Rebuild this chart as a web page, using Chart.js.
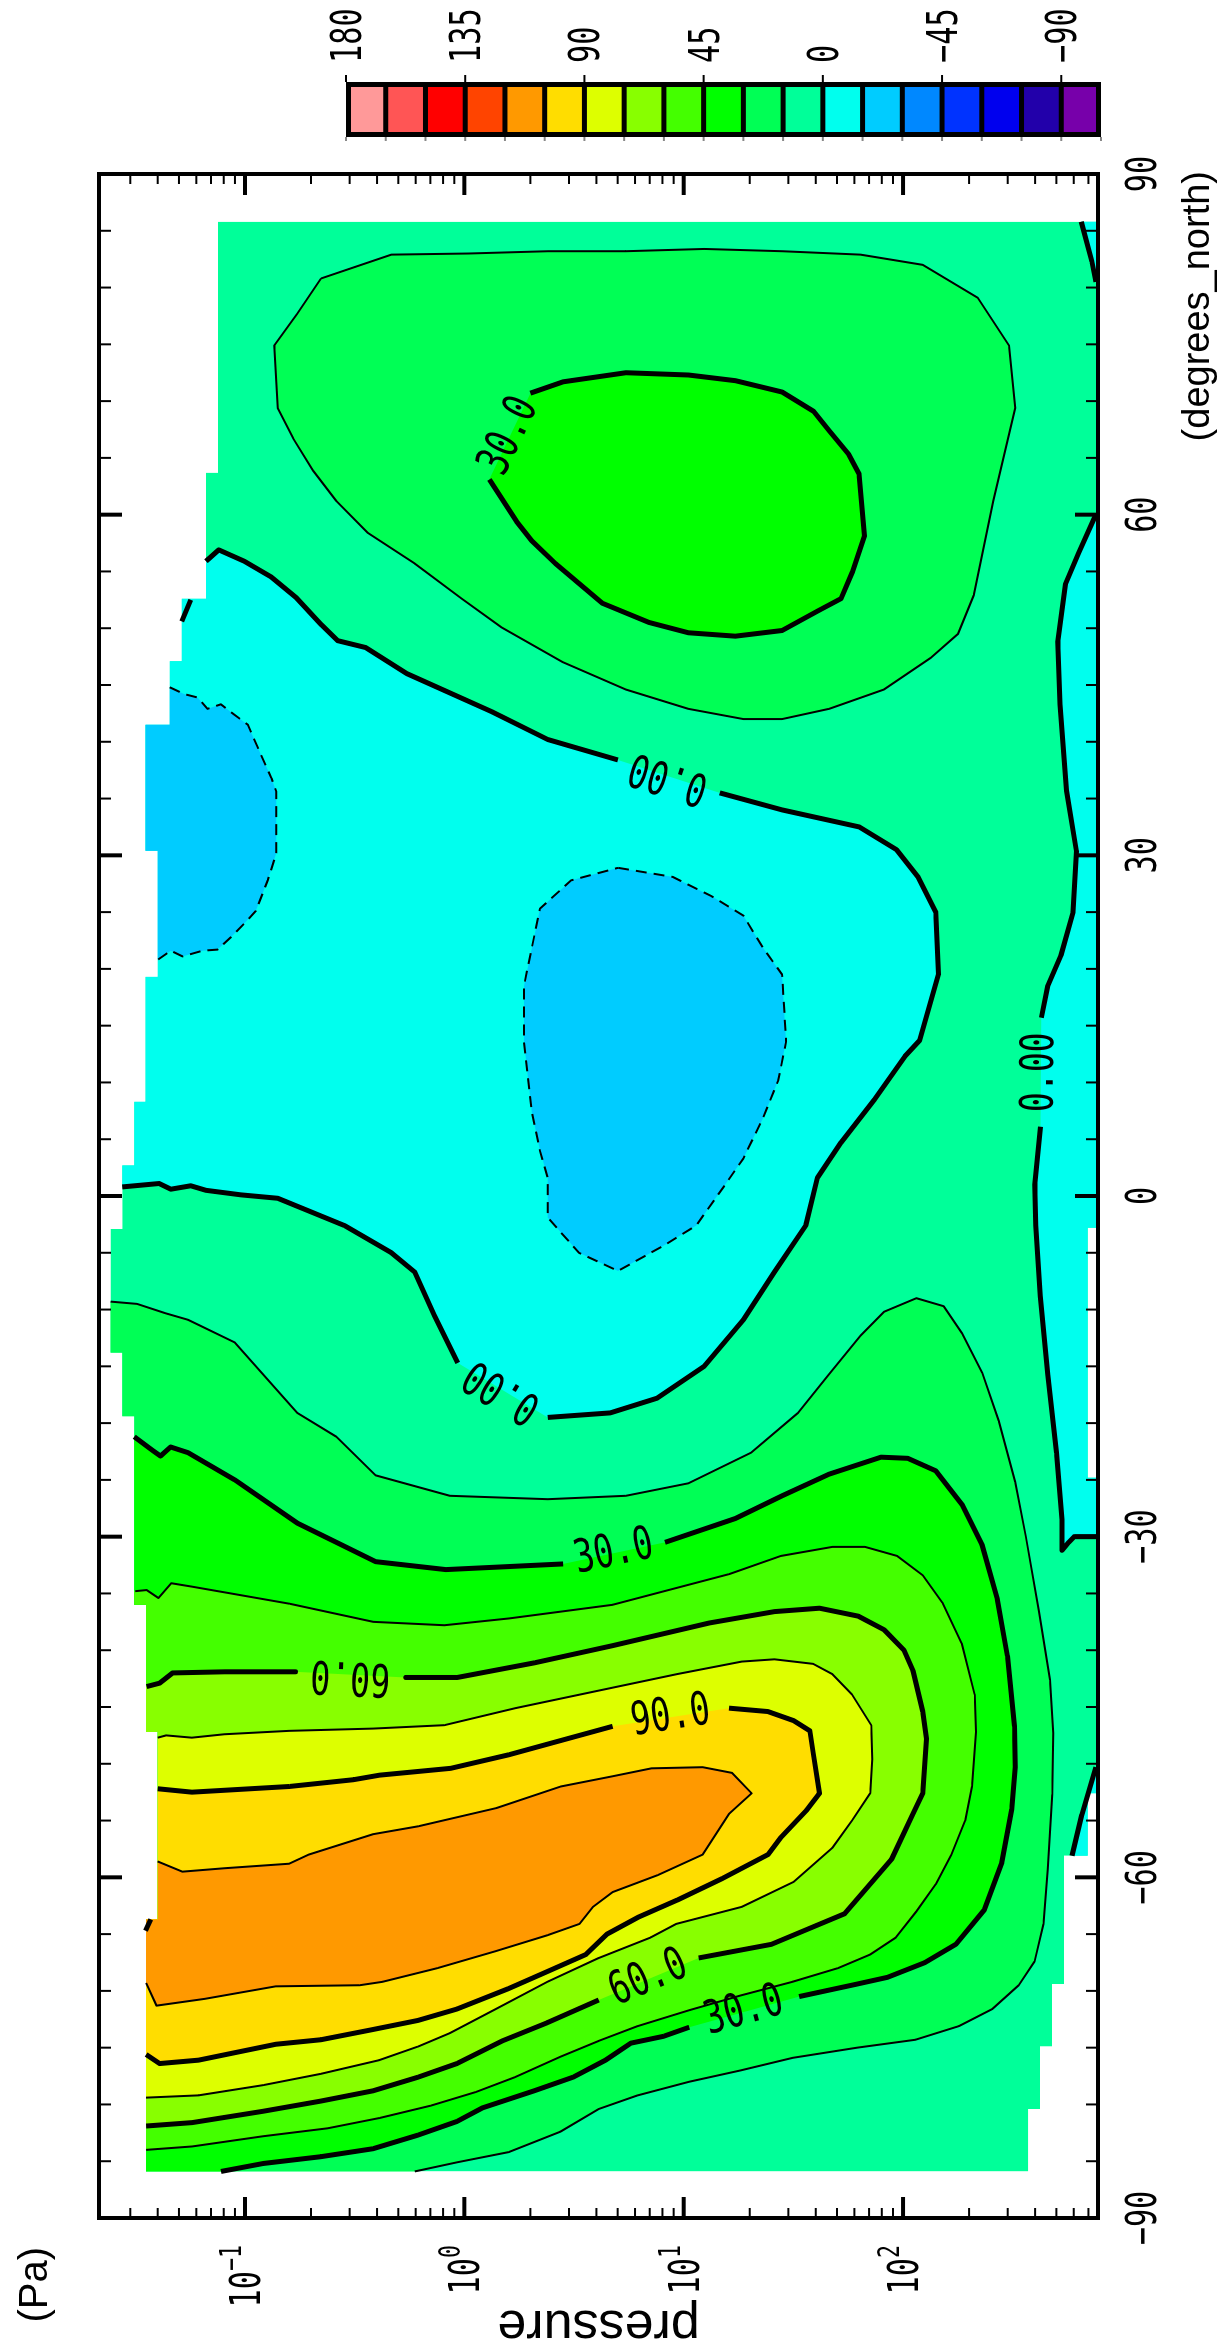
<!DOCTYPE html>
<html>
<head>
<meta charset="utf-8">
<script src="https://cdn.jsdelivr.net/npm/chart.js@4.4.1/dist/chart.umd.min.js"></script>
<style>
  html, body { margin: 0; padding: 0; background: #fff; overflow: hidden; }
  #page { position: relative; width: 1226px; height: 2347px; overflow: hidden; }
  /* the plot is drawn landscape, then turned a quarter to the left like the original page */
  #wrap { position: absolute; left: 0; top: 0; width: 2347px; height: 1226px;
          transform-origin: 0 0; transform: translate(0, 2347px) rotate(-90deg); }
</style>
</head>
<body>
<div id="page"><div id="wrap"><canvas id="chart" width="2347" height="1226"></canvas></div></div>
<script>
// ---- axes ----
const latTicks = [-90, -60, -30, 0, 30, 60, 90];
const latLabels = ['\u221290', '\u221260', '\u221230', '0', '30', '60', '90'];
const pressureTicks = [0.1, 1, 10, 100];
const pressureExponents = ['\u22121', '0', '1', '2'];
const pressureRange = [0.0216, 774];

// ---- colour levels (m/s) ----
const levelEdges = [180, 165, 150, 135, 120, 105, 90, 75, 60, 45, 30, 15, 0, -15, -30, -45, -60, -75, -90, -105];
const levelColors = ['#FF9999', '#FF5555', '#FF0000', '#FF4400', '#FF9900', '#FFDD00', '#DDFF00', '#88FF00',
  '#44FF00', '#00FF00', '#00FF55', '#00FF99', '#00FFEE', '#00CCFF', '#0088FF', '#0033FF', '#0000EE', '#2200AA', '#7700AA'];
const colorbarLabels = ['180', '135', '90', '45', '0', '\u221245', '\u221290'];

// ---- data region (latitude, pressure Pa) ----
const domainLow = [[85.8, 0.0753], [63.7, 0.0753], [63.7, 0.0664], [52.6, 0.0664], [52.6, 0.0515], [47.1, 0.0515],
  [47.1, 0.0454], [41.5, 0.0454], [41.5, 0.0352], [30.4, 0.0352], [30.4, 0.0400], [19.3, 0.0400],
  [19.3, 0.0352], [8.3, 0.0352], [8.3, 0.0313], [2.7, 0.0313], [2.7, 0.0276], [-2.9, 0.0276],
  [-2.9, 0.0244], [-13.8, 0.0244], [-13.8, 0.0276], [-19.4, 0.0276], [-19.4, 0.0313], [-36.0, 0.0313],
  [-36.0, 0.0354], [-47.2, 0.0354], [-47.2, 0.0400], [-63.7, 0.0400], [-63.7, 0.0354], [-85.9, 0.0354]];
const domainHigh = [[-85.9, 372], [-80.4, 372], [-80.4, 421], [-74.9, 421], [-74.9, 477], [-69.4, 477], [-69.4, 541],
  [-58.1, 541], [-58.1, 695], [-52.6, 695], [-52.6, 757], [-24.8, 757], [-24.8, 695], [-2.8, 695],
  [-2.8, 757], [85.8, 757]];

// ---- contour lines, split where a label sits ----
const zeroMain = [
  [[55.9, 0.0664], [56.9, 0.0759], [55.9, 0.0993], [54.5, 0.132], [52.7, 0.171], [50.3, 0.223], [48.9, 0.265],
   [48.3, 0.355], [46.0, 0.547], [42.6, 1.35], [40.2, 2.40], [38.4, 5.01]],
  [[35.5, 14.6], [34.0, 28.1], [32.5, 63.1], [30.5, 93.3], [28.1, 117], [25.0, 141], [19.5, 145], [13.7, 119],
   [12.3, 102], [8.5, 74.1], [4.7, 52.1], [1.6, 40.7], [-2.6, 36.0], [-6.7, 25.9], [-10.9, 18.7], [-15.0, 12.4],
   [-17.8, 7.57], [-19.1, 4.62], [-19.5, 2.40]],
  [[-14.7, 0.933], [-10.5, 0.729], [-6.7, 0.594], [-5.0, 0.465], [-2.6, 0.284], [-0.2, 0.141], [0.1, 0.0959],
   [0.5, 0.0664], [0.9, 0.0566], [0.6, 0.0459], [1.1, 0.0406], [0.8, 0.0276]]];
const zeroMainClose = [[0.8, 0.015], [55.9, 0.015]];
const zeroSurface = [
  [[60.0, 757], [56.6, 631], [53.9, 550], [48.8, 507], [43.3, 519], [35.7, 556], [30.4, 617], [25.0, 596],
   [21.2, 525], [18.5, 457], [15.7, 427]],
  [[6.1, 423], [1.0, 398], [-2.6, 403], [-8.8, 422], [-15.7, 457], [-22.6, 501], [-28.5, 531], [-31.2, 531],
   [-30.5, 569], [-30.0, 603], [-30.0, 757]]];
const zeroSurfaceClose = [[-30, 950], [60, 950]];
const zeroNorthCorner = [[[85.8, 649], [82.3, 726], [80.5, 757]]];
const zeroNorthCornerClose = [[80.5, 950], [88, 950], [88, 649]];
const zeroSouthSurface = [[[-58.1, 589], [-54.5, 653], [-50.3, 757]]];
const zeroSouthSurfaceClose = [[-50.3, 950], [-60, 950], [-60, 589]];
const zeroDash = [[[50.6, 0.0515], [52.5, 0.0566]]];

const minus15Top = [[[44.8, 0.0454], [44.2, 0.0528], [43.9, 0.0608], [42.9, 0.0675], [43.3, 0.0776], [42.4, 0.0893],
  [41.5, 0.103], [38.9, 0.118], [36.8, 0.132], [35.6, 0.139], [30.2, 0.139], [27.8, 0.127], [25.1, 0.112],
  [24.0, 0.0993], [22.8, 0.0863], [21.7, 0.0750], [21.6, 0.0640], [21.1, 0.0519], [21.6, 0.0459], [20.8, 0.0400]]];
const minus15TopClose = [[20.8, 0.015], [44.8, 0.015]];
const minus15Mid = [[[28.9, 5.02], [28.1, 8.91], [26.4, 13.4], [24.7, 18.7], [21.9, 22.9], [19.5, 28.1], [13.6, 29.3],
  [10.2, 27.0], [6.8, 22.9], [3.3, 18.7], [0.8, 15.2], [-2.6, 11.4], [-4.3, 8.22], [-6.6, 5.02], [-5.0, 3.33],
  [-1.9, 2.40], [1.6, 2.40], [4.0, 2.21], [7.4, 2.03], [13.6, 1.87], [18.5, 1.87], [25.3, 2.21], [27.8, 3.07],
  [28.9, 5.02]]];

const plus15North = [[[80.8, 0.222], [82.9, 0.465], [83.0, 1.05], [83.2, 2.40], [83.2, 5.45], [83.4, 12.4], [83.2, 28.1],
  [82.9, 64.0], [82.0, 123], [79.1, 219], [74.9, 304], [69.4, 325], [61.2, 258], [52.9, 210], [49.5, 178],
  [47.4, 134], [44.6, 81.8], [42.9, 46.0], [42.0, 28.1], [42.0, 18.7], [42.9, 10.5], [44.6, 5.45], [47.0, 2.82],
  [50.1, 1.47], [52.6, 0.973], [55.7, 0.594], [58.4, 0.363], [61.2, 0.261], [63.9, 0.204], [66.7, 0.166],
  [69.4, 0.141], [74.9, 0.136], [77.7, 0.173], [80.8, 0.222]]];
const plus15South = [[[-9.3, 0.0244], [-9.5, 0.0322], [-10.3, 0.0430], [-10.9, 0.0550], [-12.9, 0.0899], [-19.1, 0.173],
  [-21.2, 0.261], [-24.6, 0.394], [-26.4, 0.859], [-26.7, 2.40], [-26.4, 5.45], [-25.3, 10.5], [-22.6, 20.3],
  [-19.1, 33.2], [-15.7, 46.0], [-12.3, 64.0], [-10.2, 81.8], [-9.0, 115], [-9.7, 153], [-12.1, 186], [-15.6, 230],
  [-19.8, 273], [-25.2, 325], [-30.0, 363], [-36.6, 417], [-42.6, 468], [-47.3, 484], [-52.7, 479], [-59.3, 457],
  [-64.1, 437], [-67.4, 398], [-69.5, 337], [-71.6, 255], [-73.1, 180], [-74.3, 114], [-75.0, 61.8], [-75.9, 31.3],
  [-77.0, 18.2], [-78.0, 10.6], [-79.2, 6.17], [-80.4, 4.10], [-82.4, 2.74], [-84.2, 1.59], [-85.1, 0.925],
  [-85.9, 0.594]]];
const plus15SouthClose = [[-88, 0.594], [-88, 0.015], [-9.3, 0.015]];

const plus30North = [[[63.1, 1.30], [59.4, 1.73], [57.7, 2.03], [55.7, 2.60], [52.2, 4.26], [50.5, 6.97], [49.6, 10.5],
  [49.3, 17.2], [49.8, 28.1], [51.5, 40.7], [52.6, 52.1], [55.0, 58.9], [58.1, 66.7], [63.6, 63.0], [65.3, 56.6],
  [67.4, 46.0], [69.1, 39.1], [70.8, 28.1], [71.8, 17.2], [72.3, 10.5], [72.5, 5.45], [71.7, 2.82], [70.7, 2.00]]];
const plus30South = [
  [[-21.2, 0.0313], [-22.4, 0.0379], [-22.9, 0.0412], [-22.1, 0.0458], [-22.6, 0.0550], [-25.0, 0.0899],
   [-28.8, 0.173], [-32.2, 0.394], [-32.9, 0.824], [-32.4, 2.82]],
  [[-30.5, 8.22], [-28.4, 17.2], [-26.4, 28.1], [-24.5, 46.0], [-23.0, 79.4], [-23.1, 105], [-24.2, 141],
   [-27.2, 186], [-30.7, 229], [-35.5, 269], [-40.5, 299], [-46.7, 322], [-50.3, 325], [-54.0, 313], [-58.7, 282],
   [-62.9, 234], [-65.9, 174], [-67.5, 126], [-68.8, 85.1], [-69.4, 61.7], [-70.5, 33.6]],
  [[-73.2, 10.6], [-74.0, 8.09], [-74.6, 5.75], [-76.1, 4.40], [-77.6, 3.13], [-78.8, 2.08], [-80.3, 1.21],
   [-81.5, 0.925], [-82.7, 0.615], [-83.9, 0.383], [-84.6, 0.222], [-85.2, 0.121], [-85.9, 0.0778]]];
const plus30SouthClose = [[-88, 0.0778], [-88, 0.015], [-21.2, 0.015]];

const plus45South = [[[-34.8, 0.0316], [-34.7, 0.0356], [-35.4, 0.0403], [-34.1, 0.0461], [-34.4, 0.0573],
  [-34.9, 0.0805], [-35.9, 0.159], [-37.5, 0.384], [-37.8, 0.811], [-37.2, 1.60], [-36.0, 4.74], [-33.3, 16.1],
  [-31.7, 27.7], [-30.9, 47.6], [-30.9, 67.0], [-31.7, 94.0], [-33.4, 123], [-35.8, 151], [-39.4, 185],
  [-43.9, 212], [-47.2, 215], [-52.0, 206], [-55.0, 192], [-58.0, 166], [-60.6, 141], [-63.0, 115], [-65.3, 92.7],
  [-66.8, 70.8], [-68.0, 50.4], [-69.2, 31.3], [-70.4, 18.2], [-71.7, 10.6], [-73.1, 6.17], [-74.4, 4.10],
  [-75.8, 2.74], [-77.6, 1.70], [-78.9, 1.13], [-80.1, 0.705], [-81.2, 0.409], [-82.1, 0.238], [-82.8, 0.121],
  [-83.7, 0.0574], [-84.0, 0.0354]]];
const plus45SouthClose = [[-84.0, 0.015], [-34.8, 0.015]];

const plus60South = [
  [[-43.2, 0.0356], [-42.9, 0.0408], [-42.0, 0.0468], [-41.9, 0.0805], [-41.9, 0.170]],
  [[-42.4, 0.540], [-42.4, 0.929], [-41.1, 2.10], [-39.6, 4.74], [-37.6, 13.1], [-36.6, 25.9], [-36.3, 41.6],
   [-37.0, 62.5], [-38.2, 82.0], [-40.0, 101], [-41.8, 111], [-45.4, 123], [-47.8, 128], [-52.6, 123],
   [-54.4, 111], [-58.4, 88.7], [-63.2, 54.2], [-65.9, 25.1], [-67.1, 11.7]],
  [[-70.8, 4.10], [-72.8, 2.39], [-74.4, 1.49], [-76.4, 0.925], [-77.6, 0.615], [-78.8, 0.383], [-79.7, 0.222],
   [-80.6, 0.121], [-81.6, 0.0574], [-81.9, 0.0354]]];
const plus60SouthClose = [[-81.9, 0.015], [-43.2, 0.015]];

const plus75South = [[[-47.7, 0.0400], [-47.5, 0.0437], [-47.7, 0.0573], [-47.4, 0.0805], [-47.1, 0.159],
  [-46.9, 0.384], [-46.6, 0.811], [-45.1, 1.71], [-43.3, 4.74], [-42.1, 9.35], [-41.0, 18.4], [-40.8, 25.9],
  [-41.2, 38.9], [-42.1, 47.6], [-43.9, 58.5], [-46.6, 71.6], [-49.6, 72.4], [-52.6, 70.8], [-55.0, 58.5],
  [-57.4, 47.6], [-60.4, 31.7], [-62.6, 18.4], [-64.1, 9.25], [-65.3, 7.06], [-67.1, 4.10], [-69.2, 2.39],
  [-71.6, 1.39], [-73.7, 0.863], [-74.9, 0.615], [-76.1, 0.409], [-77.3, 0.222], [-78.3, 0.121], [-79.2, 0.0614],
  [-79.4, 0.0354]]];
const plus75SouthClose = [[-79.4, 0.015], [-47.7, 0.015]];

const plus90South = [
  [[-52.2, 0.0400], [-52.5, 0.0573], [-52.0, 0.159], [-51.4, 0.313], [-51.0, 0.411], [-50.4, 0.867], [-49.2, 1.60],
   [-46.7, 4.74]],
  [[-45.1, 16.1], [-45.4, 24.2], [-46.2, 31.7], [-47.1, 37.6], [-49.0, 38.9], [-52.6, 41.6], [-54.1, 36.3],
   [-56.5, 27.7], [-58.0, 24.2], [-60.1, 15.0], [-62.0, 9.35], [-63.5, 6.22], [-65.0, 4.47], [-66.8, 3.58],
   [-68.3, 2.39], [-69.8, 1.59], [-71.6, 0.925], [-72.6, 0.615], [-73.4, 0.383], [-74.3, 0.222], [-74.7, 0.138],
   [-76.1, 0.0614], [-76.4, 0.0408], [-75.6, 0.0354]]];
const plus90SouthClose = [[-75.6, 0.015], [-52.2, 0.015]];

const plus105South = [[[-58.6, 0.0400], [-59.5, 0.0518], [-59.2, 0.0805], [-58.8, 0.159], [-58.0, 0.195],
  [-56.2, 0.384], [-55.5, 0.618], [-53.9, 1.40], [-52.0, 2.75], [-51.1, 4.74], [-50.4, 7.13], [-50.3, 12.2],
  [-50.8, 16.6], [-52.6, 20.4], [-54.4, 16.1], [-58.0, 12.2], [-59.8, 7.62], [-61.3, 4.74], [-62.6, 3.86],
  [-64.1, 3.35], [-65.1, 2.39], [-66.5, 1.39], [-68.0, 0.753], [-69.2, 0.424], [-69.5, 0.334], [-69.6, 0.138],
  [-70.7, 0.0656], [-71.3, 0.0395], [-69.3, 0.0354]]];
const plus105SouthClose = [[-69.3, 0.015], [-58.6, 0.015]];
const plus120Dash = [[[-64.7, 0.0352], [-63.7, 0.0372]]];

const contourLabels = [
  { text: '30.0', from: [63.1, 1.30], to: [70.7, 2.00] },
  { text: '0.00', from: [35.5, 14.6], to: [38.4, 5.01] },
  { text: '0.00', from: [6.1, 423], to: [15.7, 427] },
  { text: '0.00', from: [-19.5, 2.40], to: [-14.7, 0.933] },
  { text: '30.0', from: [-32.4, 2.82], to: [-30.5, 8.22] },
  { text: '60.0', from: [-42.4, 0.540], to: [-41.9, 0.170] },
  { text: '90.0', from: [-46.7, 4.74], to: [-45.1, 16.1] },
  { text: '60.0', from: [-70.8, 4.10], to: [-67.1, 11.7] },
  { text: '30.0', from: [-73.2, 10.6], to: [-70.5, 33.6] }
];

// side: -1 fills the band below the level, +1 the band above; close: null means line only
const contours = [
  { level: 0, side: -1, segs: zeroMain, close: zeroMainClose },
  { level: 0, side: -1, segs: zeroSurface, close: zeroSurfaceClose },
  { level: 0, side: -1, segs: zeroNorthCorner, close: zeroNorthCornerClose },
  { level: 0, side: -1, segs: zeroSouthSurface, close: zeroSouthSurfaceClose },
  { level: 0, side: -1, segs: zeroDash, close: null },
  { level: -15, side: -1, segs: minus15Top, close: minus15TopClose },
  { level: -15, side: -1, segs: minus15Mid, close: [] },
  { level: 15, side: 1, segs: plus15North, close: [] },
  { level: 15, side: 1, segs: plus15South, close: plus15SouthClose },
  { level: 30, side: 1, segs: plus30North, close: [] },
  { level: 30, side: 1, segs: plus30South, close: plus30SouthClose },
  { level: 45, side: 1, segs: plus45South, close: plus45SouthClose },
  { level: 60, side: 1, segs: plus60South, close: plus60SouthClose },
  { level: 75, side: 1, segs: plus75South, close: plus75SouthClose },
  { level: 90, side: 1, segs: plus90South, close: plus90SouthClose },
  { level: 105, side: 1, segs: plus105South, close: plus105SouthClose },
  { level: 120, side: 1, segs: plus120Dash, close: null }
];

const MONO = '"DejaVu Sans Mono", monospace';
const SANS = '"Liberation Sans", Arial, sans-serif';

function colorFor(v) {
  for (let i = 0; i < levelColors.length; i++) {
    if (v < levelEdges[i] && v >= levelEdges[i + 1]) return levelColors[i];
  }
  return '#fff';
}

function toPx(chart, pt) {
  return [chart.scales.x.getPixelForValue(pt[0]), chart.scales.y.getPixelForValue(pt[1])];
}

function tracePath(ctx, chart, pts) {
  pts.forEach((pt, i) => {
    const [a, b] = toPx(chart, pt);
    if (i) ctx.lineTo(a, b); else ctx.moveTo(a, b);
  });
  ctx.closePath();
}

function line(ctx, x1, y1, x2, y2) {
  ctx.beginPath(); ctx.moveTo(x1, y1); ctx.lineTo(x2, y2); ctx.stroke();
}

// narrow plotter-like digits
function monoText(ctx, str, x, y, size, align, squeeze) {
  ctx.save();
  ctx.font = size + 'px ' + MONO;
  ctx.translate(x, y);
  ctx.scale(squeeze, 1);
  ctx.textAlign = align;
  ctx.fillText(str, 0, 0);
  ctx.restore();
}

// filled bands, clipped to where the model has data
const contourFill = {
  id: 'contourFill',
  beforeDatasetsDraw(chart) {
    const ctx = chart.ctx;
    ctx.save();
    ctx.beginPath();
    tracePath(ctx, chart, domainLow.concat(domainHigh));
    ctx.clip();
    ctx.fillStyle = colorFor(7.5);
    ctx.fill();
    contours.forEach(c => {
      if (!c.close) return;
      ctx.beginPath();
      tracePath(ctx, chart, c.segs.flat().concat(c.close));
      ctx.fillStyle = colorFor(c.level + 7.5 * c.side);
      ctx.fill();
    });
    ctx.restore();
  }
};

// labels written along the lines
const contourText = {
  id: 'contourText',
  afterDatasetsDraw(chart) {
    const ctx = chart.ctx;
    ctx.save();
    ctx.fillStyle = '#000';
    ctx.textBaseline = 'middle';
    contourLabels.forEach(l => {
      const [ax, ay] = toPx(chart, l.from);
      const [bx, by] = toPx(chart, l.to);
      ctx.save();
      ctx.translate((ax + bx) / 2, (ay + by) / 2);
      ctx.rotate(Math.atan2(by - ay, bx - ax));
      monoText(ctx, l.text, 0, 0, 46, 'center', 0.72);
      ctx.restore();
    });
    ctx.restore();
  }
};

// frame, inward ticks, tick labels, titles and colour key
const frameAndKey = {
  id: 'frameAndKey',
  afterDraw(chart) {
    const { ctx, chartArea: a, scales: { x, y } } = chart;
    ctx.save();
    ctx.strokeStyle = '#000';
    ctx.fillStyle = '#000';
    ctx.lineCap = 'butt';

    // latitude ticks every 5 degrees on top and bottom edges
    for (let lat = -85; lat <= 85; lat += 5) {
      const major = lat % 30 === 0;
      const xx = x.getPixelForValue(lat);
      ctx.lineWidth = major ? 4 : 2;
      const len = major ? 23 : 12;
      line(ctx, xx, a.top, xx, a.top + len);
      line(ctx, xx, a.bottom, xx, a.bottom - len);
    }
    // pressure ticks on left and right edges
    [0.01, 0.1, 1, 10, 100].forEach(dec => {
      for (let k = 1; k <= 9; k++) {
        const v = dec * k;
        if (v <= pressureRange[0] || v >= pressureRange[1]) continue;
        const yy = y.getPixelForValue(v);
        const major = k === 1;
        ctx.lineWidth = major ? 4 : 2;
        const len = major ? 21 : 10;
        line(ctx, a.left, yy, a.left + len, yy);
        line(ctx, a.right, yy, a.right - len, yy);
      }
    });
    // frame
    ctx.lineWidth = 4;
    ctx.strokeRect(a.left, a.top, a.right - a.left, a.bottom - a.top);

    // latitude labels
    latTicks.forEach((lat, i) => {
      monoText(ctx, latLabels[i], x.getPixelForValue(lat), a.bottom + 58, 42, 'center', 0.72);
    });
    // pressure labels 10^n, right aligned
    ctx.font = '42px ' + MONO;
    const baseW = ctx.measureText('10').width * 0.72;
    pressureTicks.forEach((p, i) => {
      const yy = y.getPixelForValue(p);
      ctx.font = '30px ' + MONO;
      const supW = ctx.measureText(pressureExponents[i]).width * 0.72;
      const right = a.left - 27;
      monoText(ctx, '10', right - supW - baseW, yy + 15, 42, 'left', 0.72);
      monoText(ctx, pressureExponents[i], right - supW, yy - 4, 30, 'left', 0.72);
    });

    // titles
    ctx.font = '40px ' + SANS;
    ctx.textAlign = 'right';
    ctx.fillText('(Pa)', a.left - 29, 47);
    ctx.font = '38px ' + SANS;
    ctx.fillText('(degrees_north)', a.right + 3, 1209);
    ctx.save();
    ctx.translate(36, (a.top + a.bottom) / 2);
    ctx.rotate(-Math.PI / 2);
    ctx.font = '52px ' + SANS;
    ctx.textAlign = 'center';
    ctx.fillText('pressure', 0, 0);
    ctx.restore();

    // colour key
    const kx = 2210, kw = 55, ky = 346, kh = 755;
    const n = levelColors.length, step = kh / n;
    ctx.fillRect(kx, ky, kw, kh);
    levelColors.forEach((c, i) => {
      const t = ky + i * step + (i === 0 ? 5 : 2.5);
      const b = ky + (i + 1) * step - (i === n - 1 ? 5 : 2.5);
      ctx.fillStyle = c;
      ctx.fillRect(kx + 5, t, kw - 10, b - t);
    });
    ctx.fillStyle = '#000';
    ctx.lineWidth = 2;
    for (let i = 0; i <= n; i++) {
      const yy = ky + i * step;
      if (i % 3 === 0) line(ctx, kx + kw, yy, kx + kw + 7, yy);
      ctx.strokeStyle = '#888';
      line(ctx, kx - 4, yy, kx, yy);
      ctx.strokeStyle = '#000';
    }
    colorbarLabels.forEach((txt, j) => {
      monoText(ctx, txt, 2284, ky + j * 3 * step + 15, 42, 'left', 0.72);
    });
    ctx.restore();
  }
};

const datasets = [];
contours.forEach(c => {
  c.segs.forEach(seg => {
    datasets.push({
      data: seg.map(([lat, p]) => ({ x: lat, y: p })),
      showLine: true,
      fill: false,
      pointRadius: 0,
      borderColor: '#000',
      borderWidth: c.level % 30 === 0 ? 5 : 2,
      borderDash: c.level < 0 ? [11, 7] : [],
      borderJoinStyle: 'round',
      tension: 0
    });
  });
});

new Chart(document.getElementById('chart'), {
  type: 'scatter',
  data: { datasets },
  options: {
    responsive: false,
    animation: false,
    devicePixelRatio: 1,
    events: [],
    layout: { padding: { left: 129, right: 174, top: 99, bottom: 128 } },
    plugins: { legend: { display: false }, tooltip: { enabled: false } },
    scales: {
      x: { type: 'linear', min: -90, max: 90, display: false },
      y: { type: 'logarithmic', min: pressureRange[0], max: pressureRange[1], reverse: true, display: false }
    }
  },
  plugins: [contourFill, contourText, frameAndKey]
});
</script>
</body>
</html>
